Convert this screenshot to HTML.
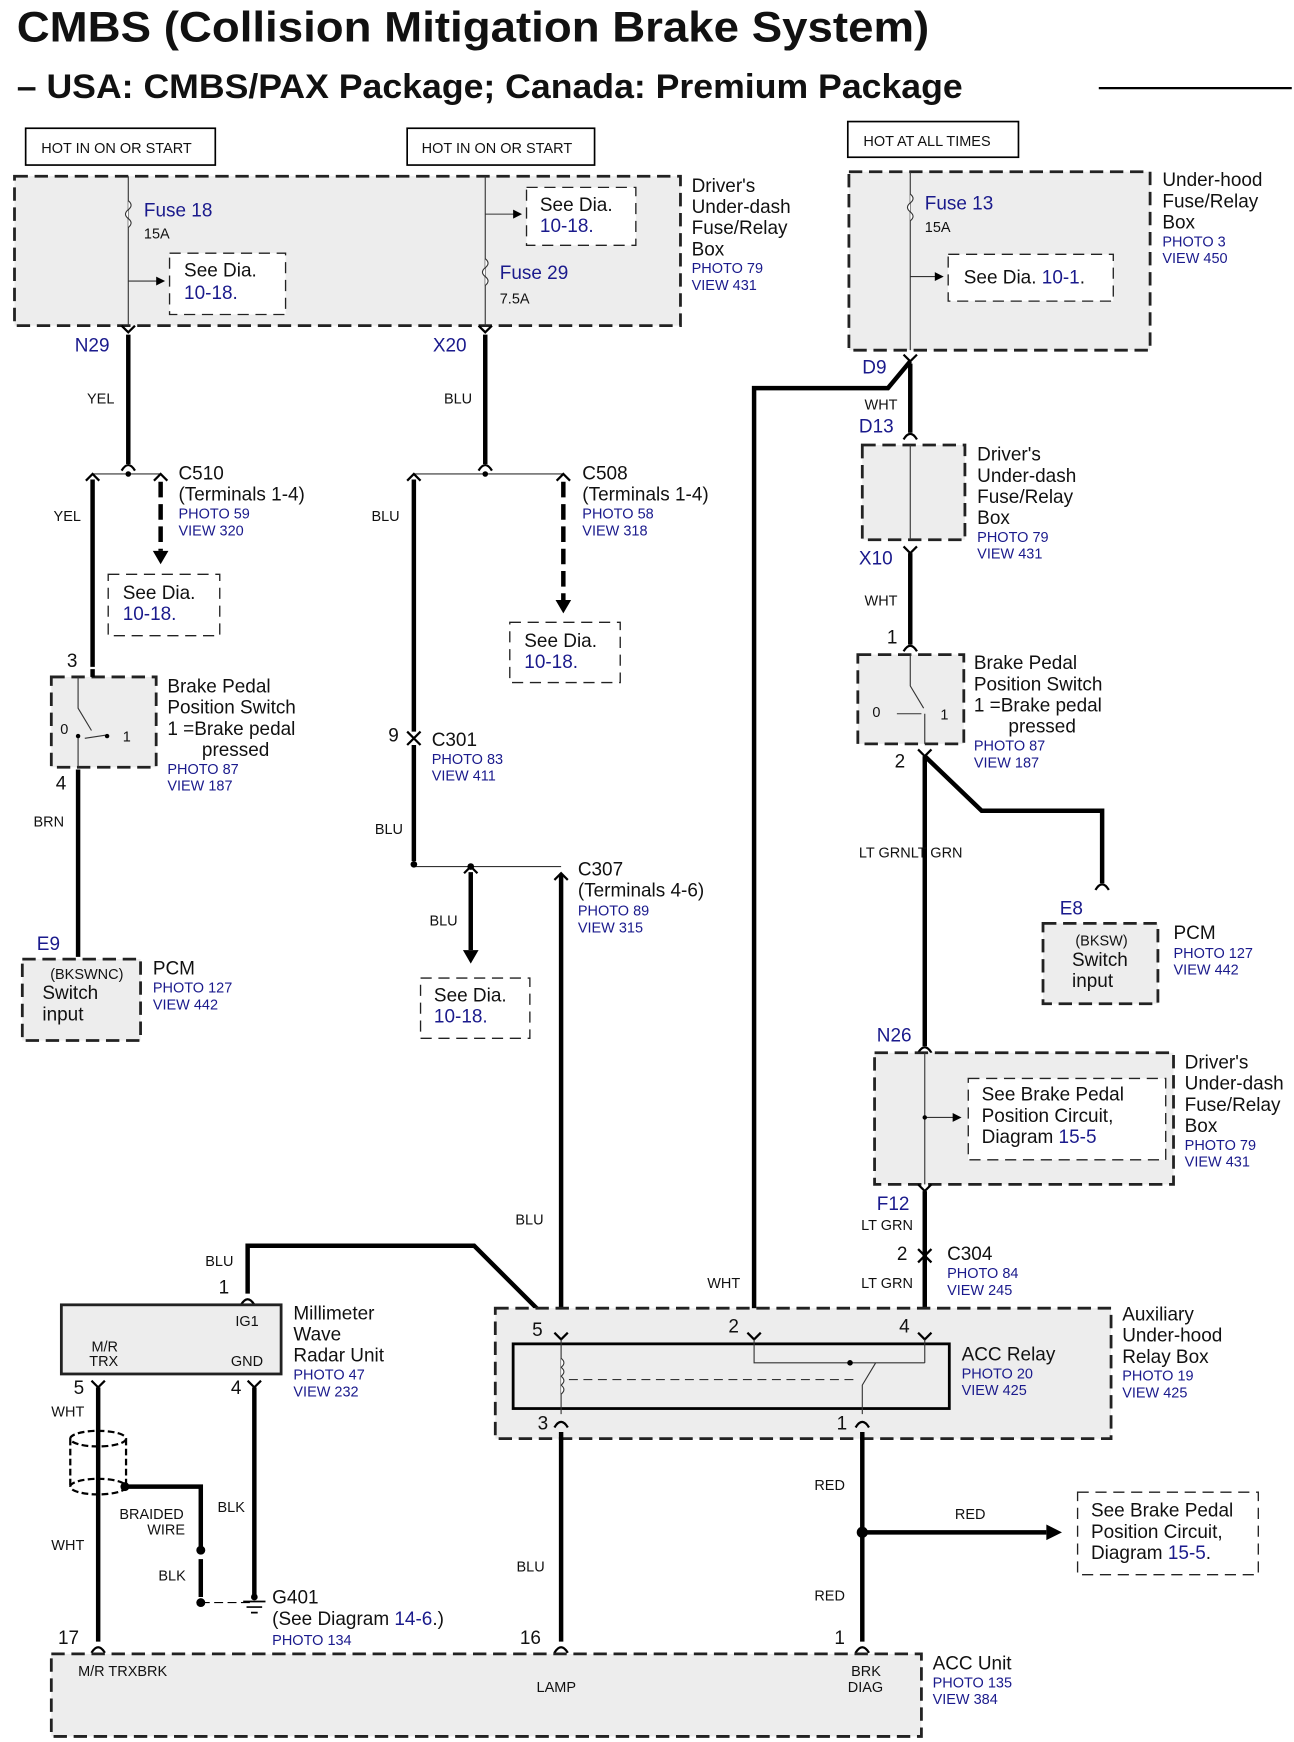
<!DOCTYPE html>
<html><head><meta charset="utf-8"><style>
html,body{margin:0;padding:0;background:#fff;}
svg{display:block;}
text{font-family:"Liberation Sans",Arial,sans-serif;fill:#111;}
.b{fill:#1a1a8c;}
.s{font-size:13px;}
.m{font-size:17px;}
.w{stroke:#000;stroke-width:4;fill:none;}
.t{stroke:#333;stroke-width:1;fill:none;}
.d{stroke:#222;stroke-width:2.5;stroke-dasharray:12 6;fill:#ededed;}
.dl{stroke:#222;stroke-width:1.2;stroke-dasharray:10 6;fill:#fff;}
.p{stroke:#000;stroke-width:2;fill:none;}
</style></head><body>
<svg width="1294" height="1742" viewBox="0 0 1160 1562" preserveAspectRatio="none" xmlns="http://www.w3.org/2000/svg">
<text x="15" y="37" font-size="38" font-weight="bold" textLength="818" lengthAdjust="spacingAndGlyphs">CMBS (Collision Mitigation Brake System)</text>
<text x="15" y="88" font-size="31" font-weight="bold" textLength="848" lengthAdjust="spacingAndGlyphs">– USA: CMBS/PAX Package; Canada: Premium Package</text>
<line x1="985" y1="79" x2="1158" y2="79" stroke="#000" stroke-width="2"/>

<rect x="23" y="115" width="170" height="33" fill="#fff" stroke="#000" stroke-width="1.5"/><text x="37" y="137" class="s">HOT IN ON OR START</text>
<rect x="365" y="115" width="168" height="33" fill="#fff" stroke="#000" stroke-width="1.5"/><text x="378" y="137" class="s">HOT IN ON OR START</text>
<rect x="760" y="109" width="153" height="32" fill="#fff" stroke="#000" stroke-width="1.5"/><text x="774" y="131" class="s">HOT AT ALL TIMES</text>

<!-- driver's fuse box -->
<rect x="13" y="158" width="597" height="134" class="d"/>
<line x1="115" y1="158" x2="115" y2="292" class="t"/>
<path d="M115 180 q5 4 0 8 q-5 4 0 8 q5 4 0 8" fill="#fff" stroke="#333"/>
<text x="129" y="194" class="m b">Fuse 18</text><text x="129" y="214" class="s">15A</text>
<line x1="115" y1="252" x2="142" y2="252" class="t"/><path d="M148 252 l-8 -4 v8z"/>
<rect x="152" y="227" width="104" height="55" class="dl" fill="#ededed"/>
<text x="165" y="248" class="m">See Dia.</text><text x="165" y="268" class="m b">10-18.</text>
<line x1="435" y1="158" x2="435" y2="292" class="t"/>
<line x1="435" y1="192" x2="462" y2="192" class="t"/><path d="M468 192 l-8 -4 v8z"/>
<rect x="472" y="168" width="98" height="52" class="dl" fill="#ededed"/>
<text x="484" y="189" class="m">See Dia.</text><text x="484" y="208" class="m b">10-18.</text>
<path d="M435 232 q5 4 0 8 q-5 4 0 8 q5 4 0 8" fill="#fff" stroke="#333"/>
<text x="448" y="250" class="m b">Fuse 29</text><text x="448" y="272" class="s">7.5A</text>
<text x="620" y="172" class="m">Driver's</text><text x="620" y="191" class="m">Under-dash</text><text x="620" y="210" class="m">Fuse/Relay</text><text x="620" y="229" class="m">Box</text>
<text x="620" y="245" class="s b">PHOTO 79</text><text x="620" y="260" class="s b">VIEW 431</text>

<!-- under-hood -->
<rect x="761" y="154" width="270" height="160" class="d"/>
<line x1="816" y1="154" x2="816" y2="314" class="t"/>
<path d="M816 174 q5 4 0 8 q-5 4 0 8 q5 4 0 8" fill="#fff" stroke="#333"/>
<text x="829" y="188" class="m b">Fuse 13</text><text x="829" y="208" class="s">15A</text>
<line x1="816" y1="248" x2="840" y2="248" class="t"/><path d="M846 248 l-8 -4 v8z"/>
<rect x="850" y="228" width="148" height="42" class="dl" fill="#ededed"/>
<text x="864" y="254" class="m">See Dia. <tspan class="b">10-1</tspan>.</text>
<text x="1042" y="167" class="m">Under-hood</text><text x="1042" y="186" class="m">Fuse/Relay</text><text x="1042" y="205" class="m">Box</text>
<text x="1042" y="221" class="s b">PHOTO 3</text><text x="1042" y="236" class="s b">VIEW 450</text>

<!-- left column -->
<text x="67" y="315" class="m b">N29</text>
<path d="M109 292 l6 6 l6 -6" class="p"/>
<line x1="115" y1="300" x2="115" y2="416" class="w"/>
<path d="M109 422 q6 -10 12 0" class="p"/>
<text x="78" y="362" class="s">YEL</text>
<line x1="83" y1="425" x2="144" y2="425" class="t"/><circle cx="115" cy="425" r="2.5"/>
<path d="M77 431 l6 -6 l6 6 M138 431 l6 -6 l6 6" class="p"/>
<line x1="83" y1="430" x2="83" y2="598" class="w"/>
<line x1="144" y1="432" x2="144" y2="494" class="w" stroke-dasharray="14 6"/><path d="M144 506 l-7 -12 h14z"/>
<text x="48" y="467" class="s">YEL</text>
<text x="160" y="430" class="m">C510</text><text x="160" y="449" class="m">(Terminals 1-4)</text>
<text x="160" y="465" class="s b">PHOTO 59</text><text x="160" y="480" class="s b">VIEW 320</text>
<rect x="97" y="515" width="100" height="55" class="dl"/>
<text x="110" y="537" class="m">See Dia.</text><text x="110" y="556" class="m b">10-18.</text>
<text x="60" y="598" class="m">3</text>
<rect x="46" y="607" width="94" height="81" class="d"/>
<line x1="83" y1="600" x2="83" y2="607" class="w"/>
<path d="M70 607 v28 l12 20 M70 660 v28 M76 662 l20 -3" class="t"/><circle cx="70" cy="660" r="2"/><circle cx="96" cy="660" r="2"/>
<text x="54" y="658" class="s">0</text><text x="110" y="665" class="s">1</text>
<text x="50" y="708" class="m">4</text>
<text x="150" y="621" class="m">Brake Pedal</text><text x="150" y="640" class="m">Position Switch</text><text x="150" y="659" class="m">1 =Brake pedal</text><text x="181" y="678" class="m">pressed</text>
<text x="150" y="694" class="s b">PHOTO 87</text><text x="150" y="709" class="s b">VIEW 187</text>
<text x="30" y="741" class="s">BRN</text>
<line x1="70" y1="690" x2="70" y2="858" class="w"/>
<text x="33" y="852" class="m b">E9</text>
<rect x="20" y="860" width="106" height="73" class="d"/>
<text x="45" y="878" class="s">(BKSWNC)</text><text x="38" y="896" class="m">Switch</text><text x="38" y="915" class="m">input</text>
<text x="137" y="874" class="m">PCM</text><text x="137" y="890" class="s b">PHOTO 127</text><text x="137" y="905" class="s b">VIEW 442</text>

<!-- middle column -->
<text x="388" y="315" class="m b">X20</text>
<path d="M429 292 l6 6 l6 -6" class="p"/>
<line x1="435" y1="300" x2="435" y2="416" class="w"/>
<path d="M429 422 q6 -10 12 0" class="p"/>
<text x="398" y="362" class="s">BLU</text>
<line x1="371" y1="425" x2="505" y2="425" class="t"/><circle cx="435" cy="425" r="2.5"/>
<path d="M365 431 l6 -6 l6 6 M499 431 l6 -6 l6 6" class="p"/>
<line x1="371" y1="430" x2="371" y2="656" class="w"/>
<line x1="505" y1="432" x2="505" y2="538" class="w" stroke-dasharray="14 6"/><path d="M505 550 l-7 -12 h14z"/>
<text x="333" y="467" class="s">BLU</text>
<text x="522" y="430" class="m">C508</text><text x="522" y="449" class="m">(Terminals 1-4)</text>
<text x="522" y="465" class="s b">PHOTO 58</text><text x="522" y="480" class="s b">VIEW 318</text>
<rect x="457" y="558" width="99" height="54" class="dl"/>
<text x="470" y="580" class="m">See Dia.</text><text x="470" y="599" class="m b">10-18.</text>
<path d="M365 656 l6 6 l6 -6 M365 668 l6 -6 l6 6" class="p"/>
<text x="348" y="665" class="m">9</text>
<text x="387" y="669" class="m">C301</text><text x="387" y="685" class="s b">PHOTO 83</text><text x="387" y="700" class="s b">VIEW 411</text>
<line x1="371" y1="668" x2="371" y2="772" class="w"/>
<text x="336" y="748" class="s">BLU</text>
<line x1="371" y1="777" x2="503" y2="777" class="t"/><circle cx="371" cy="775" r="3"/><circle cx="422" cy="777" r="3"/>
<path d="M416 783 l6 -6 l6 6 M497 789 l6 -6 l6 6" class="p"/>
<line x1="422" y1="782" x2="422" y2="852" class="w"/><path d="M422 864 l-7 -12 h14z"/>
<text x="385" y="830" class="s">BLU</text>
<rect x="377" y="877" width="98" height="54" class="dl"/>
<text x="389" y="898" class="m">See Dia.</text><text x="389" y="917" class="m b">10-18.</text>
<line x1="503" y1="784" x2="503" y2="1195" class="w"/>
<text x="518" y="785" class="m">C307</text><text x="518" y="804" class="m">(Terminals 4-6)</text>
<text x="518" y="821" class="s b">PHOTO 89</text><text x="518" y="836" class="s b">VIEW 315</text>
<text x="462" y="1098" class="s">BLU</text>

<!-- right column -->
<text x="773" y="335" class="m b">D9</text>
<path d="M810 318 l6 6 l6 -6" class="p"/>
<path d="M816 324 L796 348 L676 348 L676 1195" class="w"/>
<line x1="816" y1="326" x2="816" y2="388" class="w"/>
<path d="M810 394 q6 -10 12 0" class="p"/>
<text x="775" y="367" class="s">WHT</text>
<text x="770" y="388" class="m b">D13</text>
<rect x="773" y="399" width="92" height="85" class="d"/>
<line x1="816" y1="399" x2="816" y2="484" class="t"/>
<path d="M810 490 l6 6 l6 -6" class="p"/>
<text x="770" y="506" class="m b">X10</text>
<text x="876" y="413" class="m">Driver's</text><text x="876" y="432" class="m">Under-dash</text><text x="876" y="451" class="m">Fuse/Relay</text><text x="876" y="470" class="m">Box</text>
<text x="876" y="486" class="s b">PHOTO 79</text><text x="876" y="501" class="s b">VIEW 431</text>
<text x="775" y="543" class="s">WHT</text>
<line x1="816" y1="496" x2="816" y2="578" class="w"/>
<path d="M810 584 q6 -10 12 0" class="p"/>
<text x="795" y="577" class="m">1</text>
<rect x="769" y="587" width="95" height="80" class="d"/>
<path d="M816 587 v28 l12 20 M829 640 v27 M804 640 h22" class="t"/>
<text x="782" y="643" class="s">0</text><text x="843" y="645" class="s">1</text>
<text x="873" y="600" class="m">Brake Pedal</text><text x="873" y="619" class="m">Position Switch</text><text x="873" y="638" class="m">1 =Brake pedal</text><text x="904" y="657" class="m">pressed</text>
<text x="873" y="673" class="s b">PHOTO 87</text><text x="873" y="688" class="s b">VIEW 187</text>
<text x="802" y="688" class="m">2</text>
<path d="M823 672 l6 6 l6 -6" class="p"/>
<line x1="829" y1="678" x2="829" y2="938" class="w"/>
<path d="M829 678 L880 727 L988 727 L988 792" class="w"/>
<path d="M982 798 q6 -10 12 0" class="p"/>
<text x="770" y="769" class="s">LT GRNLT GRN</text>
<text x="950" y="820" class="m b">E8</text>
<rect x="935" y="828" width="103" height="72" class="d"/>
<text x="964" y="848" class="s">(BKSW)</text><text x="961" y="866" class="m">Switch</text><text x="961" y="885" class="m">input</text>
<text x="1052" y="842" class="m">PCM</text><text x="1052" y="859" class="s b">PHOTO 127</text><text x="1052" y="874" class="s b">VIEW 442</text>
<text x="786" y="934" class="m b">N26</text>
<path d="M823 944 q6 -10 12 0" class="p"/>
<rect x="784" y="944" width="268" height="118" class="d"/>
<line x1="829" y1="944" x2="829" y2="1062" class="t"/>
<line x1="829" y1="1002" x2="856" y2="1002" class="t"/><path d="M862 1002 l-8 -4 v8z"/><circle cx="829" cy="1002" r="2"/>
<rect x="868" y="967" width="177" height="73" class="dl" fill="#ededed"/>
<text x="880" y="987" class="m">See Brake Pedal</text><text x="880" y="1006" class="m">Position Circuit,</text><text x="880" y="1025" class="m">Diagram <tspan class="b">15-5</tspan></text>
<text x="1062" y="958" class="m">Driver's</text><text x="1062" y="977" class="m">Under-dash</text><text x="1062" y="996" class="m">Fuse/Relay</text><text x="1062" y="1015" class="m">Box</text>
<text x="1062" y="1031" class="s b">PHOTO 79</text><text x="1062" y="1046" class="s b">VIEW 431</text>
<text x="786" y="1085" class="m b">F12</text>
<path d="M823 1062 l6 6 l6 -6" class="p"/>
<line x1="829" y1="1068" x2="829" y2="1195" class="w"/>
<path d="M823 1120 l6 6 l6 -6 M823 1132 l6 -6 l6 6" class="p"/>
<text x="772" y="1103" class="s">LT GRN</text>
<text x="804" y="1130" class="m">2</text>
<text x="849" y="1130" class="m">C304</text><text x="849" y="1146" class="s b">PHOTO 84</text><text x="849" y="1161" class="s b">VIEW 245</text>
<text x="772" y="1155" class="s">LT GRN</text>
<text x="634" y="1155" class="s">WHT</text>

<!-- radar wire -->
<path d="M222 1160 L222 1117 L425 1117 L503 1195" class="w"/>
<text x="184" y="1135" class="s">BLU</text>
<text x="196" y="1160" class="m">1</text>
<path d="M216 1170 q6 -10 12 0" class="p"/>
<rect x="55" y="1170" width="197" height="62" fill="#ededed" stroke="#222" stroke-width="2.5"/>
<text x="211" y="1189" class="s">IG1</text><text x="82" y="1212" class="s">M/R</text><text x="80" y="1225" class="s">TRX</text><text x="207" y="1225" class="s">GND</text>
<text x="263" y="1183" class="m">Millimeter</text><text x="263" y="1202" class="m">Wave</text><text x="263" y="1221" class="m">Radar Unit</text>
<text x="263" y="1237" class="s b">PHOTO 47</text><text x="263" y="1252" class="s b">VIEW 232</text>

<!-- aux relay box -->
<rect x="444" y="1173" width="552" height="117" class="d"/>
<path d="M497 1195 l6 6 l6 -6 M670 1195 l6 6 l6 -6 M823 1195 l6 6 l6 -6" class="p"/>
<rect x="460" y="1205" width="391" height="58" fill="#ededed" stroke="#000" stroke-width="2.5"/>
<path d="M503 1201 v67 M676 1201 v21 h153 M829 1201 v21 M773 1268 v-26 l12 -20" class="t"/>
<path d="M503 1218 q5 4 0 8 q5 4 0 8 q5 4 0 8 q5 4 0 8" fill="#fff" stroke="#333"/>
<line x1="510" y1="1237" x2="770" y2="1237" stroke="#333" stroke-width="1" stroke-dasharray="8 5"/>
<circle cx="762" cy="1222" r="2.5"/>
<path d="M497 1280 q6 -10 12 0 M767 1280 q6 -10 12 0" class="p"/>
<text x="477" y="1198" class="m">5</text><text x="653" y="1195" class="m">2</text><text x="806" y="1195" class="m">4</text>
<text x="482" y="1282" class="m">3</text><text x="750" y="1282" class="m">1</text>
<text x="862" y="1220" class="m">ACC Relay</text><text x="862" y="1236" class="s b">PHOTO 20</text><text x="862" y="1251" class="s b">VIEW 425</text>
<text x="1006" y="1184" class="m">Auxiliary</text><text x="1006" y="1203" class="m">Under-hood</text><text x="1006" y="1222" class="m">Relay Box</text>
<text x="1006" y="1238" class="s b">PHOTO 19</text><text x="1006" y="1253" class="s b">VIEW 425</text>

<!-- lower left -->
<text x="66" y="1250" class="m">5</text><text x="207" y="1250" class="m">4</text>
<path d="M82 1238 l6 6 l6 -6 M222 1238 l6 6 l6 -6" class="p"/>
<line x1="88" y1="1244" x2="88" y2="1472" class="w"/>
<line x1="228" y1="1244" x2="228" y2="1432" class="w"/>
<text x="46" y="1270" class="s">WHT</text><text x="46" y="1390" class="s">WHT</text>
<ellipse cx="88" cy="1290" rx="25" ry="7" fill="none" stroke="#000" stroke-width="2" stroke-dasharray="6 3"/>
<ellipse cx="88" cy="1333" rx="25" ry="7" fill="none" stroke="#000" stroke-width="2" stroke-dasharray="6 3"/>
<line x1="63" y1="1290" x2="63" y2="1333" stroke="#000" stroke-width="2" stroke-dasharray="6 3"/>
<line x1="113" y1="1290" x2="113" y2="1333" stroke="#000" stroke-width="2" stroke-dasharray="6 3"/>
<path d="M112 1333 H180 V1390" class="w"/><circle cx="112" cy="1333" r="4"/>
<circle cx="180" cy="1390" r="4"/><circle cx="180" cy="1437" r="4"/>
<line x1="180" y1="1398" x2="180" y2="1432" class="w"/>
<line x1="180" y1="1437" x2="225" y2="1437" stroke="#000" stroke-width="1" stroke-dasharray="8 4"/>
<path d="M218 1436 h20 M221 1441 h14 M225 1446 h6" stroke="#000" stroke-width="1.5"/>
<circle cx="228" cy="1432" r="3"/>
<text x="107" y="1362" class="s">BRAIDED</text><text x="132" y="1376" class="s">WIRE</text>
<text x="195" y="1356" class="s">BLK</text><text x="142" y="1417" class="s">BLK</text>
<text x="244" y="1438" class="m">G401</text><text x="244" y="1457" class="m">(See Diagram <tspan class="b">14-6</tspan>.)</text>
<text x="244" y="1475" class="s b">PHOTO 134</text>

<!-- lower wires -->
<line x1="503" y1="1284" x2="503" y2="1472" class="w"/>
<line x1="773" y1="1284" x2="773" y2="1472" class="w"/>
<text x="463" y="1409" class="s">BLU</text>
<text x="730" y="1336" class="s">RED</text><text x="730" y="1435" class="s">RED</text>
<circle cx="773" cy="1374" r="5"/>
<line x1="773" y1="1374" x2="938" y2="1374" class="w"/><path d="M952 1374 l-14 -7 v14z"/>
<text x="856" y="1362" class="s">RED</text>
<rect x="966" y="1338" width="162" height="74" class="dl"/>
<text x="978" y="1360" class="m">See Brake Pedal</text><text x="978" y="1379" class="m">Position Circuit,</text><text x="978" y="1398" class="m">Diagram <tspan class="b">15-5</tspan>.</text>

<!-- ACC unit -->
<text x="52" y="1474" class="m">17</text><text x="466" y="1474" class="m">16</text><text x="748" y="1474" class="m">1</text>
<path d="M82 1482 q6 -10 12 0 M497 1482 q6 -10 12 0 M767 1482 q6 -10 12 0" class="p"/>
<rect x="46" y="1483" width="780" height="74" class="d"/>
<text x="70" y="1503" class="s">M/R TRXBRK</text><text x="481" y="1517" class="s">LAMP</text>
<text x="763" y="1503" class="s">BRK</text><text x="760" y="1517" class="s">DIAG</text>
<text x="836" y="1497" class="m">ACC Unit</text><text x="836" y="1513" class="s b">PHOTO 135</text><text x="836" y="1528" class="s b">VIEW 384</text>
</svg>
</body></html>
